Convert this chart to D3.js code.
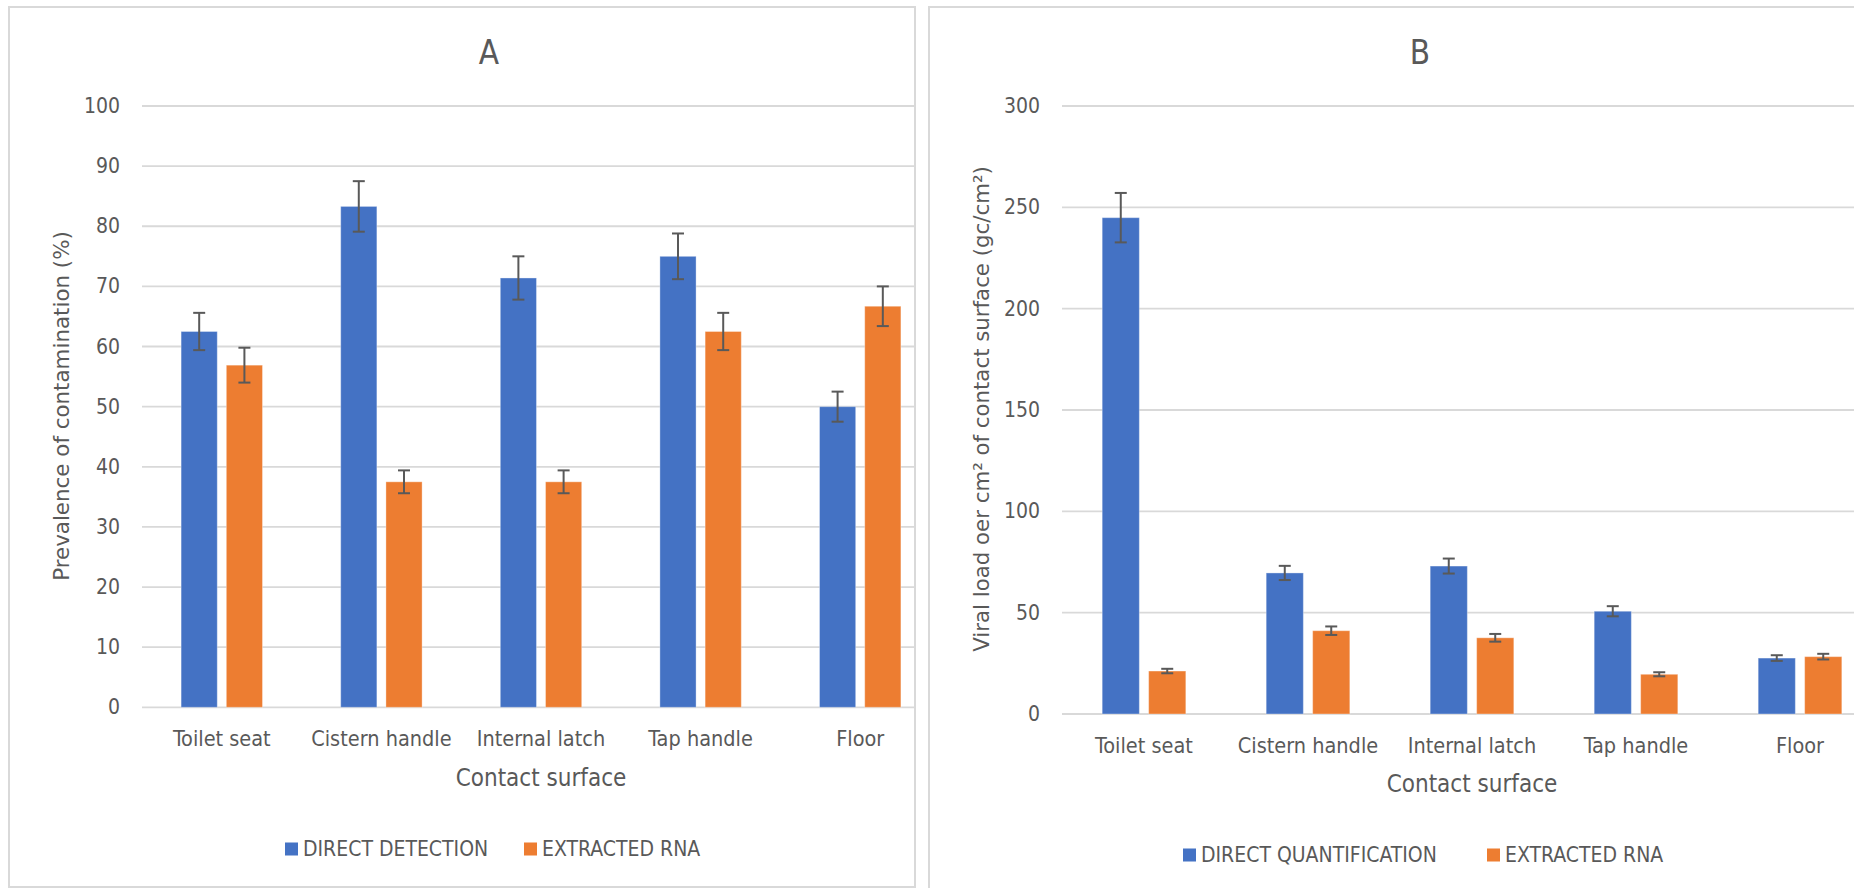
<!DOCTYPE html>
<html>
<head>
<meta charset="utf-8">
<script src="https://cdn.jsdelivr.net/npm/d3@7/dist/d3.min.js"></script>
<style>
  html, body { margin: 0; padding: 0; background: #ffffff; }
  svg { display: block; }
  .tick-label, .cat-label, .legend-label, .axis-title, .chart-title {
    font-family: "Liberation Sans Narrow", "Arial Narrow", "DejaVu Sans Condensed", sans-serif;
    fill: #595959;
  }
  .y-title { font-family: "DejaVu Sans", Verdana, sans-serif; fill: #595959; }
</style>
</head>
<body>
<svg id="chart" width="1854" height="888"></svg>
<script>
// Surfaces sampled
const categories = ["Toilet seat", "Cistern handle", "Internal latch", "Tap handle", "Floor"];

// Panel A: prevalence of contamination (%)
const prevalenceDirect = [62.5, 83.3, 71.4, 75.0, 50.0];
const prevalenceExtracted = [56.9, 37.5, 37.5, 62.5, 66.7];
const prevalenceDirectErr = [3.1, 4.2, 3.6, 3.8, 2.5];
const prevalenceExtractedErr = [2.9, 1.9, 1.9, 3.1, 3.3];
const prevalenceTicks = [0, 10, 20, 30, 40, 50, 60, 70, 80, 90, 100];

// Panel B: viral load per cm2 (gc/cm2)
const loadDirect = [244.9, 69.6, 73.0, 50.7, 27.6];
const loadExtracted = [21.2, 41.1, 37.6, 19.6, 28.3];
const loadDirectErr = [12.2, 3.5, 3.7, 2.5, 1.4];
const loadExtractedErr = [1.1, 2.1, 1.9, 1.0, 1.4];
const loadTicks = [0, 50, 100, 150, 200, 250, 300];

const seriesKeys = ["direct", "extracted"];
const colors = { direct: "#4472C4", extracted: "#ED7D31" };

const svg = d3.select("#chart");

function drawPanel(cfg) {
  const g = svg.append("g");
  const clipId = "clip-" + cfg.id;
  svg.append("defs").append("clipPath").attr("id", clipId)
    .append("rect")
    .attr("x", cfg.frame.x).attr("y", cfg.frame.y)
    .attr("width", cfg.frame.w).attr("height", cfg.frame.h);

  const inner = g.append("g").attr("clip-path", `url(#${clipId})`);

  const x0 = d3.scaleBand().domain(categories).range(cfg.xRange).padding(0);
  const bw = x0.bandwidth();
  const x1 = d3.scaleBand().domain(seriesKeys)
    .range([bw * 0.245, bw * 0.755]).paddingInner(0.2).paddingOuter(0);
  const y = d3.scaleLinear().domain(cfg.yDomain).range(cfg.yRange);

  // gridlines
  inner.selectAll("line.grid").data(cfg.ticks).enter().append("line")
    .attr("class", "grid")
    .attr("x1", cfg.xRange[0]).attr("x2", cfg.xRange[1])
    .attr("y1", d => y(d)).attr("y2", d => y(d))
    .attr("stroke", "#d9d9d9").attr("stroke-width", 1.8);

  // tick labels
  g.selectAll("text.tick-label").data(cfg.ticks).enter().append("text")
    .attr("class", "tick-label")
    .attr("x", cfg.xRange[0] - 22)
    .attr("y", d => y(d))
    .attr("text-anchor", "end")
    .attr("dominant-baseline", "central")
    .style("font-size", "21px")
    .text(d => d);

  const rows = categories.map((c, i) => ({
    cat: c,
    values: [
      { key: "direct", v: cfg.direct[i], e: cfg.directErr[i] },
      { key: "extracted", v: cfg.extracted[i], e: cfg.extractedErr[i] }
    ]
  }));

  const groups = inner.selectAll("g.cat").data(rows).enter().append("g")
    .attr("class", "cat")
    .attr("transform", d => `translate(${x0(d.cat)},0)`);

  groups.selectAll("rect").data(d => d.values).enter().append("rect")
    .attr("x", d => x1(d.key))
    .attr("width", x1.bandwidth())
    .attr("y", d => y(d.v))
    .attr("height", d => y(0) - y(d.v))
    .attr("fill", d => colors[d.key])
    .attr("stroke", "#ffffff").attr("stroke-opacity", 0.35).attr("stroke-width", 1);

  const capHalf = 6;
  const err = groups.selectAll("g.err").data(d => d.values).enter().append("g")
    .attr("class", "err")
    .attr("stroke", "#595959").attr("stroke-width", 2);
  err.append("line")
    .attr("x1", d => x1(d.key) + x1.bandwidth() / 2)
    .attr("x2", d => x1(d.key) + x1.bandwidth() / 2)
    .attr("y1", d => y(d.v + d.e)).attr("y2", d => y(d.v - d.e));
  err.append("line")
    .attr("x1", d => x1(d.key) + x1.bandwidth() / 2 - capHalf)
    .attr("x2", d => x1(d.key) + x1.bandwidth() / 2 + capHalf)
    .attr("y1", d => y(d.v + d.e)).attr("y2", d => y(d.v + d.e));
  err.append("line")
    .attr("x1", d => x1(d.key) + x1.bandwidth() / 2 - capHalf)
    .attr("x2", d => x1(d.key) + x1.bandwidth() / 2 + capHalf)
    .attr("y1", d => y(d.v - d.e)).attr("y2", d => y(d.v - d.e));

  // category labels
  g.selectAll("text.cat-label").data(categories).enter().append("text")
    .attr("class", "cat-label")
    .attr("x", d => x0(d) + bw / 2)
    .attr("y", cfg.catY)
    .attr("text-anchor", "middle")
    .attr("dominant-baseline", "central")
    .style("font-size", "21.5px")
    .text(d => d);

  // x-axis title
  g.append("text").attr("class", "axis-title")
    .attr("x", (cfg.xRange[0] + cfg.xRange[1]) / 2)
    .attr("y", cfg.xTitleY)
    .attr("text-anchor", "middle")
    .attr("dominant-baseline", "central")
    .style("font-size", "24px")
    .text("Contact surface");

  // y-axis title, sized so it spans its intended length
  const yt = g.append("text").attr("class", "y-title")
    .attr("transform", `translate(${cfg.yTitle.x},${cfg.yTitle.y}) rotate(-90)`)
    .attr("text-anchor", "middle")
    .attr("dominant-baseline", "central")
    .style("font-size", "20px")
    .text(cfg.yTitleText);
  const measured = yt.node().getComputedTextLength();
  if (measured > 0) yt.style("font-size", (20 * cfg.yTitle.len / measured) + "px");

  // chart title
  g.append("text").attr("class", "chart-title")
    .attr("x", cfg.title.x).attr("y", cfg.title.y)
    .attr("text-anchor", "middle")
    .attr("dominant-baseline", "central")
    .style("font-size", "33px")
    .text(cfg.titleText);

  // legend
  const lg = g.append("g");
  cfg.legend.forEach((item, i) => {
    lg.append("rect")
      .attr("x", item.x).attr("y", cfg.legendY - 6.5)
      .attr("width", 13).attr("height", 13)
      .attr("fill", colors[seriesKeys[i]]);
    lg.append("text").attr("class", "legend-label")
      .attr("x", item.x + 18).attr("y", cfg.legendY)
      .attr("dominant-baseline", "central")
      .style("font-size", "21px")
      .text(item.label);
  });

  // frame
  g.append("rect")
    .attr("x", cfg.frame.x).attr("y", cfg.frame.y)
    .attr("width", cfg.frame.w).attr("height", cfg.frame.h)
    .attr("fill", "none").attr("stroke", "#d9d9d9").attr("stroke-width", 2);
}

drawPanel({
  id: "a",
  frame: { x: 9, y: 7, w: 906, h: 880 },
  xRange: [142, 940],
  yDomain: [0, 100], yRange: [707.3, 106],
  ticks: prevalenceTicks,
  direct: prevalenceDirect, extracted: prevalenceExtracted,
  directErr: prevalenceDirectErr, extractedErr: prevalenceExtractedErr,
  catY: 738, xTitleY: 778,
  yTitle: { x: 61, y: 406, len: 350 },
  yTitleText: "Prevalence of contamination (%)",
  title: { x: 489, y: 52 }, titleText: "A",
  legendY: 849,
  legend: [{ x: 285, label: "DIRECT DETECTION" }, { x: 524, label: "EXTRACTED RNA" }]
});

drawPanel({
  id: "b",
  frame: { x: 929, y: 7, w: 940, h: 900 },
  xRange: [1062, 1882],
  yDomain: [0, 300], yRange: [714, 106],
  ticks: loadTicks,
  direct: loadDirect, extracted: loadExtracted,
  directErr: loadDirectErr, extractedErr: loadExtractedErr,
  catY: 745, xTitleY: 784,
  yTitle: { x: 981, y: 409, len: 486 },
  yTitleText: "Viral load oer cm\u00B2 of contact surface (gc/cm\u00B2)",
  title: { x: 1420, y: 52 }, titleText: "B",
  legendY: 855,
  legend: [{ x: 1183, label: "DIRECT QUANTIFICATION" }, { x: 1487, label: "EXTRACTED RNA" }]
});
</script>
</body>
</html>
